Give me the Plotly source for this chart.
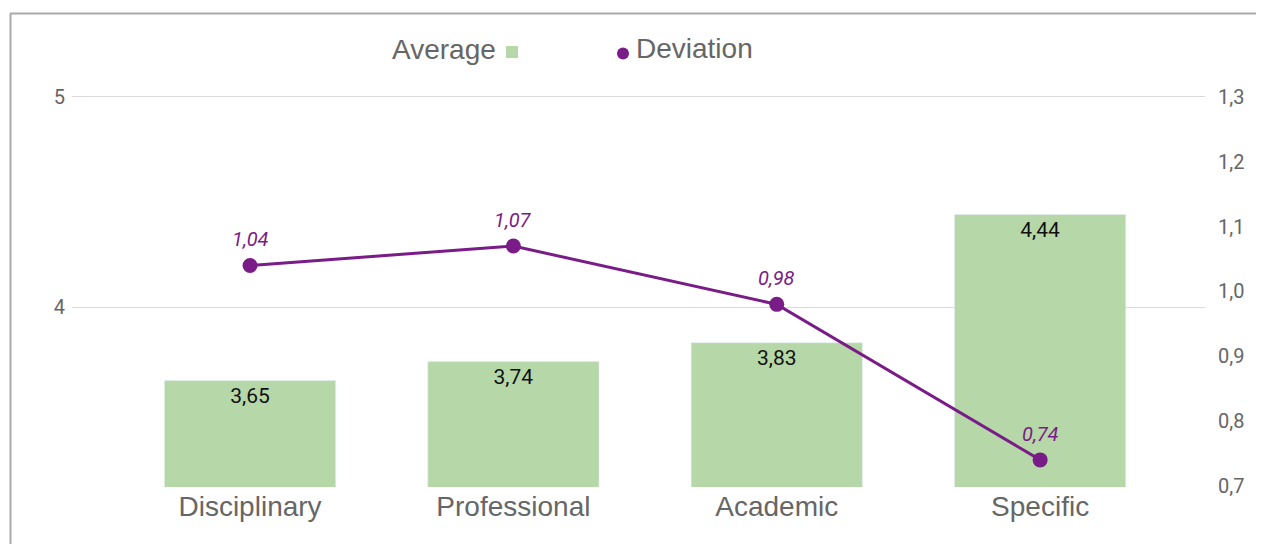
import plotly.graph_objects as go

categories = ["Disciplinary", "Professional", "Academic", "Specific"]
average = [3.65, 3.74, 3.83, 4.44]
deviation = [1.04, 1.07, 0.98, 0.74]
left_ticks = [4, 5]
right_ticks = [0.7, 0.8, 0.9, 1.0, 1.1, 1.2, 1.3]

GREEN = "#b6d7a8"
PURPLE = "#7a1c87"
GRAY = "#666666"

W, H = 1264, 544
OFF = 8  # page body margin
L, R, T, B = 72, 1205, 93, 487  # plot area in screen pixels


def px_x(p):
    return (p - L) / (R - L)


def px_y(p):
    return (B - p) / (B - T)


fig = go.Figure()
fig.add_trace(go.Bar(
    x=categories, y=average, name="Average", marker_color=GREEN,
    width=0.65, texttemplate="%{y:.2f}", textposition="inside",
    insidetextanchor="end", textangle=0,
    textfont=dict(family="Roboto", size=21, color="#111111"),
    showlegend=False, yaxis="y",
))
fig.add_trace(go.Scatter(
    x=categories, y=deviation, name="Deviation", mode="lines+markers",
    line=dict(color=PURPLE, width=3), marker=dict(color=PURPLE, size=15),
    showlegend=False, yaxis="y2",
))
for c, v in zip(categories, deviation):
    fig.add_annotation(x=c, y=v, xref="x", yref="y2", yshift=26,
                       text="<i>" + f"{v:.2f}".replace(".", ",") + "</i>",
                       showarrow=False, yanchor="middle",
                       font=dict(family="Roboto", size=20, color=PURPLE))

fig.update_layout(
    width=W, height=H,
    margin=dict(l=L - OFF, r=W - R + OFF, t=T - OFF, b=H - B + OFF, pad=0),
    paper_bgcolor="white", plot_bgcolor="white",
    separators=",.",
    xaxis=dict(range=[-0.676, 3.626], showgrid=False, zeroline=False,
               showline=False, ticks="",
               tickfont=dict(family="Liberation Sans", size=28, color=GRAY)),
    yaxis=dict(range=[3.143, 5.019], tickvals=left_ticks, showgrid=True,
               gridcolor="#dadada", gridwidth=1.3, zeroline=False, showline=False,
               tickfont=dict(family="Roboto", size=20, color=GRAY),
               ticklabelstandoff=6),
    yaxis2=dict(range=[0.69815, 1.30617], tickvals=right_ticks, tickformat=".1f",
                overlaying="y", side="right", showgrid=False, zeroline=False,
                showline=False,
                tickfont=dict(family="Roboto", size=20, color=GRAY),
                ticklabelstandoff=12),
)

shapes = [
    dict(type="line", xref="paper", yref="paper",
         x0=px_x(10), x1=px_x(1270), y0=px_y(13.5), y1=px_y(13.5),
         line=dict(color="#aaaaaa", width=2)),
    dict(type="line", xref="paper", yref="paper",
         x0=px_x(10.5), x1=px_x(10.5), y0=px_y(13.5), y1=px_y(560),
         line=dict(color="#aaaaaa", width=2)),
    dict(type="rect", xref="paper", yref="paper",
         x0=px_x(506), x1=px_x(518), y0=px_y(58), y1=px_y(46),
         fillcolor=GREEN, line=dict(width=0)),
    dict(type="circle", xref="paper", yref="paper",
         x0=px_x(617), x1=px_x(629), y0=px_y(59.5), y1=px_y(47.5),
         fillcolor=PURPLE, line=dict(width=0)),
]
fig.update_layout(shapes=shapes)

fig.add_annotation(xref="paper", yref="paper", x=px_x(498), y=px_y(50),
                   xanchor="right", yanchor="middle", showarrow=False,
                   text="Average", font=dict(family="Liberation Sans", size=28, color=GRAY))
fig.add_annotation(xref="paper", yref="paper", x=px_x(634), y=px_y(48),
                   xanchor="left", yanchor="middle", showarrow=False,
                   text="Deviation", font=dict(family="Liberation Sans", size=28, color=GRAY))

fig.write_html("out.html")
